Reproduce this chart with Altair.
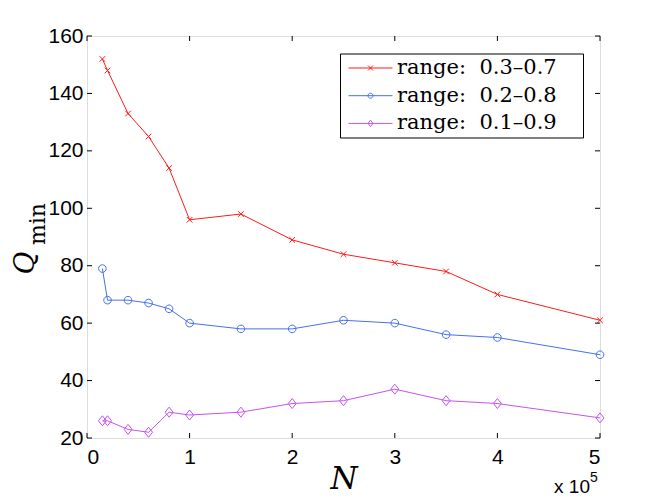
import altair as alt
import pandas as pd

# ---- data ----
n_vals = [0.15, 0.2, 0.4, 0.6, 0.8, 1.0, 1.5, 2.0, 2.5, 3.0, 3.5, 4.0, 5.0]  # x 10^5
q_range_37 = [152, 148, 133, 125, 114, 96, 98, 89, 84, 81, 78, 70, 61]
q_range_28 = [79, 68, 68, 67, 65, 60, 58, 58, 61, 60, 56, 55, 49]
q_range_19 = [26, 26, 23, 22, 29, 28, 29, 32, 33, 37, 33, 32, 27]
NB = "\u00a0"
PAD = NB + "\u2800"
series_names = [
    "range:" + NB + NB + "0.3\u20130.7" + PAD,
    "range:" + NB + NB + "0.2\u20130.8" + PAD,
    "range:" + NB + NB + "0.1\u20130.9" + PAD,
]
x_ticks = [0, 1, 2, 3, 4, 5]
y_ticks = [20, 40, 60, 80, 100, 120, 140, 160]

colors = ["#ff1a1a", "#4470f0", "#c653f2"]

rows = []
for name, vals in zip(series_names, [q_range_37, q_range_28, q_range_19]):
    for n, q in zip(n_vals, vals):
        rows.append({"N": n, "Q": q, "series": name})
df = pd.DataFrame(rows)

W, H = 513, 402

# marker shapes in the plot (unit = sqrt(size)/2)
plot_paths = [
    "M-0.7,-0.7L0.7,0.7M-0.7,0.7L0.7,-0.7",
    "M0.95,0A0.95,0.95,0,1,1,-0.95,0A0.95,0.95,0,1,1,0.95,0",
    "M0,-1.25L1,0L0,1.25L-1,0Z",
]
# legend glyphs: line + small marker
legend_paths = [
    "M-4.4,0H4.4M-0.5,-0.5L0.5,0.5M-0.5,0.5L0.5,-0.5",
    "M-4.4,0H4.4M0.5,0A0.5,0.5,0,1,1,-0.5,0A0.5,0.5,0,1,1,0.5,0",
    "M-4.4,0H4.4M0,-0.65L0.5,0L0,0.65L-0.5,0Z",
]

tick_font = "Liberation Sans"
x_axis = alt.Axis(values=x_ticks, format="d", ticks=False, domain=False, grid=False,
                  labelFont=tick_font, labelFontSize=21, labelColor="black",
                  labelPadding=8, title=None)
y_axis = alt.Axis(values=y_ticks, format="d", ticks=False, domain=False, grid=False,
                  labelFont=tick_font, labelFontSize=21, labelColor="black",
                  labelPadding=4, title=None)
x_scale = alt.Scale(domain=[0, 5], nice=False, zero=False)
y_scale = alt.Scale(domain=[20, 160], nice=False, zero=False)

cscale = alt.Scale(domain=series_names, range=colors)

base = alt.Chart(df)

lines = base.mark_line(strokeWidth=1).encode(
    x=alt.X("N:Q", scale=x_scale, axis=x_axis),
    y=alt.Y("Q:Q", scale=y_scale, axis=y_axis),
    color=alt.Color("series:N", scale=cscale, legend=None),
)

points = base.mark_point(filled=False, size=64, strokeWidth=1, opacity=1).encode(
    x=alt.X("N:Q", scale=x_scale, axis=x_axis),
    y=alt.Y("Q:Q", scale=y_scale, axis=y_axis),
    color=alt.Color("series:N", scale=cscale, legend=None),
    shape=alt.Shape("series:N", scale=alt.Scale(domain=series_names, range=plot_paths), legend=None),
)

leg_kw = dict(
    orient="none", legendX=253, legendY=17.5, title=None,
    labelFont="DejaVu Serif", labelFontSize=21, labelColor="black", labelLimit=500,
    symbolSize=100, symbolStrokeWidth=1, symbolOffset=16, labelOffset=16,
    padding=4, rowPadding=5.7, strokeColor="black", fillColor="white",
)

legend_layer = base.transform_filter("false").mark_point(
    filled=False, strokeWidth=1, opacity=1
).encode(
    x=alt.X("N:Q", scale=x_scale, axis=x_axis),
    y=alt.Y("Q:Q", scale=y_scale, axis=y_axis),
    color=alt.Color("series:N", scale=cscale, legend=alt.Legend(**leg_kw)),
    shape=alt.Shape("series:N", scale=alt.Scale(domain=series_names, range=legend_paths),
                    legend=alt.Legend(**leg_kw)),
)

# inward ticks on all four sides
xt = pd.DataFrame({"N": x_ticks})
yt = pd.DataFrame({"Q": y_ticks})
tick_len = 5
ticks_bottom = alt.Chart(xt).mark_rule(color="black", strokeWidth=1).encode(
    x=alt.X("N:Q", scale=x_scale, axis=x_axis), y=alt.value(H), y2=alt.value(H - tick_len))
ticks_top = alt.Chart(xt).mark_rule(color="black", strokeWidth=1).encode(
    x=alt.X("N:Q", scale=x_scale, axis=x_axis), y=alt.value(0), y2=alt.value(tick_len))
ticks_left = alt.Chart(yt).mark_rule(color="black", strokeWidth=1).encode(
    y=alt.Y("Q:Q", scale=y_scale, axis=y_axis), x=alt.value(0), x2=alt.value(tick_len))
ticks_right = alt.Chart(yt).mark_rule(color="black", strokeWidth=1).encode(
    y=alt.Y("Q:Q", scale=y_scale, axis=y_axis), x=alt.value(W), x2=alt.value(W - tick_len))

# axis titles
def label(txt, **kw):
    pos = {k: kw.pop(k) for k in ["x", "y"]}
    return alt.Chart(pd.DataFrame({"t": [txt]})).mark_text(**kw).encode(
        text="t:N", x=alt.value(pos["x"]), y=alt.value(pos["y"]))

q_lab = label("Q", x=-53, y=227, font="DejaVu Serif", fontStyle="italic", fontSize=28,
              angle=270, align="center", baseline="alphabetic", color="black")
min_lab = label("min", x=-42, y=188, font="DejaVu Serif", fontSize=22,
                angle=270, align="center", baseline="alphabetic", color="black")
n_lab = label("N", x=257, y=453, font="DejaVu Serif", fontStyle="italic", fontSize=31,
              align="center", baseline="alphabetic", color="black")
exp_lab = label("x 10", x=503, y=457, font=tick_font, fontSize=19,
                align="right", baseline="alphabetic", color="black")
exp5_lab = label("5", x=503, y=446, font=tick_font, fontSize=14,
                 align="left", baseline="alphabetic", color="black")

chart = alt.layer(
    lines, points, legend_layer,
    ticks_bottom, ticks_top, ticks_left, ticks_right,
    q_lab, min_lab, n_lab, exp_lab, exp5_lab,
).resolve_scale(
    color="independent", shape="independent"
).properties(
    width=W, height=H,
    autosize=alt.AutoSizeParams(type="none"),
    padding={"left": 79, "top": 28, "right": 40, "bottom": 60},
).configure_view(
    stroke="black", strokeWidth=1
).configure(background="white")

chart.save("out.html", embed_options={"renderer": "svg", "actions": False})
